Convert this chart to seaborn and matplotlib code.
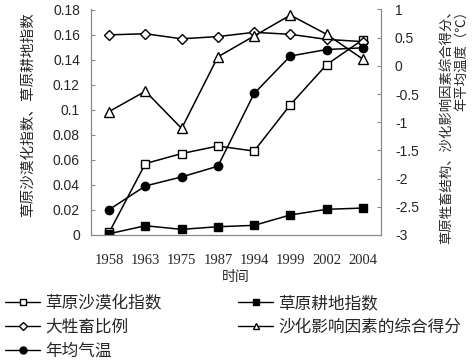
import numpy as np
import pandas as pd
import seaborn as sns
import matplotlib.pyplot as plt
from matplotlib.lines import Line2D

years = ["1958", "1963", "1975", "1987", "1994", "1999", "2002", "2004"]
desert_index = [0.002, 0.057, 0.065, 0.071, 0.067, 0.104, 0.136, 0.156]
cropland_index = [0.001, 0.0074, 0.0045, 0.0066, 0.0077, 0.016, 0.0205, 0.0215]
livestock_ratio = [0.55, 0.57, 0.48, 0.52, 0.595, 0.56, 0.47, 0.43]
composite_score = [-0.81, -0.45, -1.11, 0.16, 0.53, 0.90, 0.56, 0.12]
mean_temp = [-2.55, -2.13, -1.97, -1.78, -0.49, 0.175, 0.29, 0.32]

sns.set_style("white")
plt.rcParams["font.family"] = ["Liberation Sans", "Noto Sans CJK SC"]
cjk = ["Noto Sans CJK SC", "DejaVu Sans"]

x = np.arange(len(years))
fig = plt.figure(figsize=(4.72, 3.64), dpi=100)
ax = fig.add_axes([91 / 472, 1 - 235 / 364, 290 / 472, 225.5 / 364])
ax2 = ax.twinx()

line_kw = dict(color="black", linewidth=1.1, markeredgecolor="black", markeredgewidth=1.0)

sns.lineplot(x=x, y=desert_index, ax=ax, marker="s", markersize=6,
             markerfacecolor="white", **line_kw)
sns.lineplot(x=x, y=cropland_index, ax=ax, marker="s", markersize=6,
             markerfacecolor="black", **line_kw)
sns.lineplot(x=x, y=livestock_ratio, ax=ax2, marker="D", markersize=5,
             markerfacecolor="white", **line_kw)
sns.lineplot(x=x, y=composite_score, ax=ax2, marker="^", markersize=7,
             markerfacecolor="white", **line_kw)
sns.lineplot(x=x, y=mean_temp, ax=ax2, marker="o", markersize=6,
             markerfacecolor="black", **line_kw)

ax.set_xlim(-0.5, len(years) - 0.5)
ax.set_ylim(0, 0.18)
ax.set_yticks(np.arange(0, 0.181, 0.02))
ax.set_yticklabels(["0", "0.02", "0.04", "0.06", "0.08", "0.1", "0.12", "0.14", "0.16", "0.18"])
ax2.set_ylim(-3, 1)
ax2.set_yticks(np.arange(-3, 1.01, 0.5))
ax2.set_yticklabels(["-3", "-2.5", "-2", "-1.5", "-1", "-0.5", "0", "0.5", "1"])

ax.set_xticks(np.arange(-0.5, len(years), 1.0))
ax.set_xticklabels([])
ax.set_xticks(x, minor=True)
ax.set_xticklabels(years, minor=True, fontfamily="Liberation Serif", fontsize=10.5)
ax.tick_params(axis="x", which="major", direction="out", length=3, color="#888888")
ax.tick_params(axis="x", which="minor", length=0, pad=14)
ax.tick_params(axis="y", direction="in", length=3, color="#888888", labelsize=10, pad=8)
ax2.tick_params(axis="y", direction="in", length=3, color="#888888", labelsize=10, pad=10)

for a in (ax, ax2):
    for side in ("left", "right", "bottom"):
        a.spines[side].set_color("#888888")
        a.spines[side].set_linewidth(0.8)
    a.spines["top"].set_visible(False)
    a.set_xlabel("")
    a.set_ylabel("")

fig.text(28 / 472, 1 - 115 / 364, "草原沙漠化指数、草原耕地指数", rotation=90,
         ha="center", va="center", fontsize=10.5, family=cjk)
fig.text(454 / 472, 1 - 124 / 364, "草原牲畜结构、沙化影响因素综合得分、\n年平均温度（℃）",
         rotation=90, ha="center", va="center", multialignment="right",
         fontsize=9.6, family=cjk, linespacing=1.1)
fig.text(236 / 472, 1 - 277 / 364, "时间", ha="center", va="center",
         fontsize=10, family=cjk)

def handle(marker, face, ms):
    return Line2D([], [], color="black", linewidth=1.0, marker=marker, markersize=ms,
                  markerfacecolor=face, markeredgecolor="black")

handles = [
    handle("s", "white", 4.5),
    handle("D", "white", 4),
    handle("o", "black", 5),
    handle("s", "black", 5),
    handle("^", "white", 5),
]
labels = ["草原沙漠化指数", "大牲畜比例", "年均气温", "草原耕地指数", "沙化影响因素的综合得分"]
fig.legend(handles, labels, ncol=2, loc="upper left", bbox_to_anchor=(0, 1 - 290 / 364),
           frameon=False, prop={"family": cjk, "size": 12}, handlelength=2.1,
           handletextpad=0.3, columnspacing=4.6, labelspacing=0.4, borderpad=0,
           borderaxespad=0.3)

fig.savefig("out.png", dpi=100)
